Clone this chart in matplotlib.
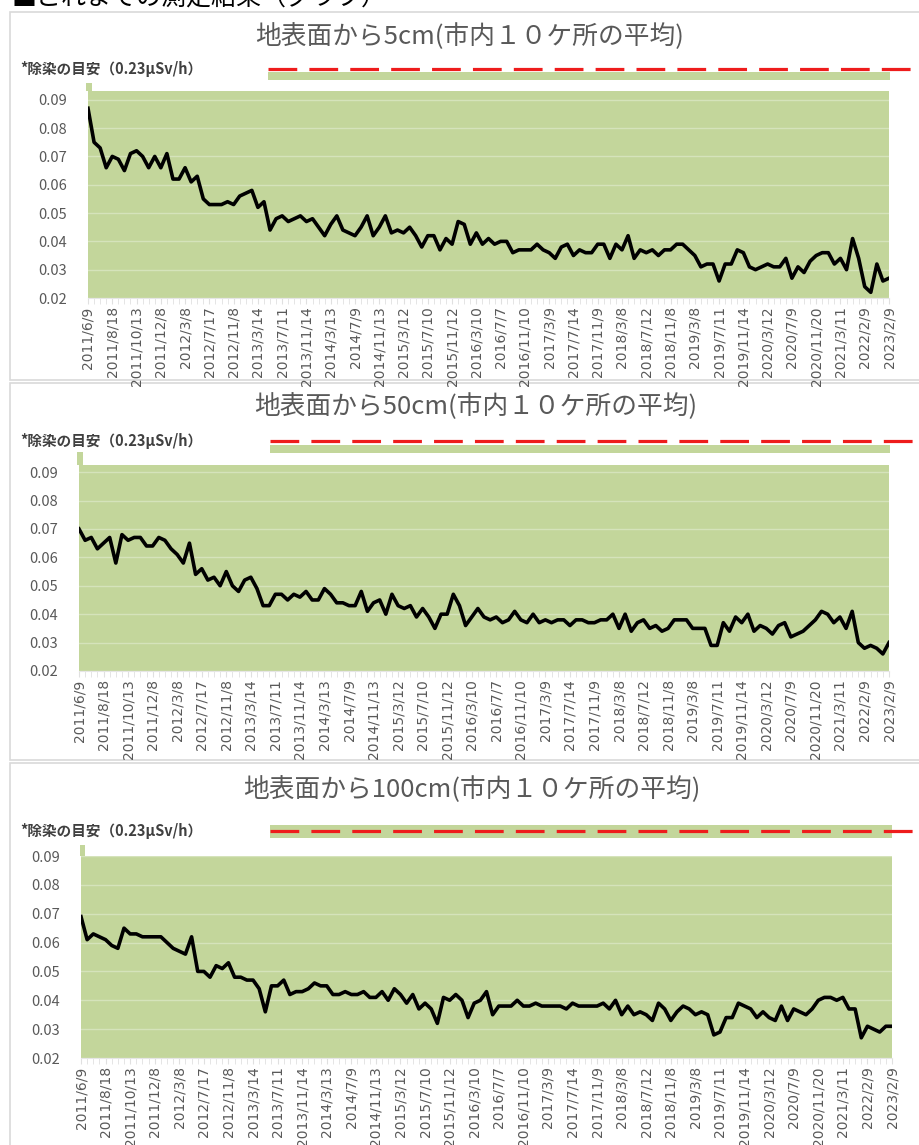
import matplotlib
matplotlib.use("Agg")
import matplotlib.pyplot as plt
from matplotlib.lines import Line2D
from matplotlib.patches import Rectangle

plt.rcParams['font.family'] = ['Noto Sans CJK JP', 'DejaVu Sans']

# tick labels shown on the category axis (every 4th measurement)
DATE_LABELS = ["2011/6/9", "2011/8/18", "2011/10/13", "2011/12/8", "2012/3/8", "2012/7/17",
               "2012/11/8", "2013/3/14", "2013/7/11", "2013/11/14", "2014/3/13", "2014/7/9",
               "2014/11/13", "2015/3/12", "2015/7/10", "2015/11/12", "2016/3/10", "2016/7/7",
               "2016/11/10", "2017/3/9", "2017/7/14", "2017/11/9", "2018/3/8", "2018/7/12",
               "2018/11/8", "2019/3/8", "2019/7/11", "2019/11/14", "2020/3/12", "2020/7/9",
               "2020/11/20", "2021/3/11", "2022/2/9", "2023/2/9"]
LABEL_STEP = 4

# air dose rate (uSv/h), average of 10 places
S_5CM = [0.087, 0.075, 0.073, 0.066, 0.070, 0.069, 0.065, 0.071, 0.072, 0.070,
         0.066, 0.070, 0.066, 0.071, 0.062, 0.062, 0.066, 0.061, 0.063, 0.055,
         0.053, 0.053, 0.053, 0.054, 0.053, 0.056, 0.057, 0.058, 0.052, 0.054,
         0.044, 0.048, 0.049, 0.047, 0.048, 0.049, 0.047, 0.048, 0.045, 0.042,
         0.046, 0.049, 0.044, 0.043, 0.042, 0.045, 0.049, 0.042, 0.045, 0.049,
         0.043, 0.044, 0.043, 0.045, 0.042, 0.038, 0.042, 0.042, 0.037, 0.041,
         0.039, 0.047, 0.046, 0.039, 0.043, 0.039, 0.041, 0.039, 0.040, 0.040,
         0.036, 0.037, 0.037, 0.037, 0.039, 0.037, 0.036, 0.034, 0.038, 0.039,
         0.035, 0.037, 0.036, 0.036, 0.039, 0.039, 0.034, 0.039, 0.037, 0.042,
         0.034, 0.037, 0.036, 0.037, 0.035, 0.037, 0.037, 0.039, 0.039, 0.037,
         0.035, 0.031, 0.032, 0.032, 0.026, 0.032, 0.032, 0.037, 0.036, 0.031,
         0.030, 0.031, 0.032, 0.031, 0.031, 0.034, 0.027, 0.031, 0.029, 0.033,
         0.035, 0.036, 0.036, 0.032, 0.034, 0.030, 0.041, 0.034, 0.024, 0.022,
         0.032, 0.026, 0.027]

S_50CM = [0.070, 0.066, 0.067, 0.063, 0.065, 0.067, 0.058, 0.068, 0.066, 0.067,
          0.067, 0.064, 0.064, 0.067, 0.066, 0.063, 0.061, 0.058, 0.065, 0.054,
          0.056, 0.052, 0.053, 0.050, 0.055, 0.050, 0.048, 0.052, 0.053, 0.049,
          0.043, 0.043, 0.047, 0.047, 0.045, 0.047, 0.046, 0.048, 0.045, 0.045,
          0.049, 0.047, 0.044, 0.044, 0.043, 0.043, 0.048, 0.041, 0.044, 0.045,
          0.040, 0.047, 0.043, 0.042, 0.043, 0.039, 0.042, 0.039, 0.035, 0.040,
          0.040, 0.047, 0.043, 0.036, 0.039, 0.042, 0.039, 0.038, 0.039, 0.037,
          0.038, 0.041, 0.038, 0.037, 0.040, 0.037, 0.038, 0.037, 0.038, 0.038,
          0.036, 0.038, 0.038, 0.037, 0.037, 0.038, 0.038, 0.040, 0.035, 0.040,
          0.034, 0.037, 0.038, 0.035, 0.036, 0.034, 0.035, 0.038, 0.038, 0.038,
          0.035, 0.035, 0.035, 0.029, 0.029, 0.037, 0.034, 0.039, 0.037, 0.040,
          0.034, 0.036, 0.035, 0.033, 0.036, 0.037, 0.032, 0.033, 0.034, 0.036,
          0.038, 0.041, 0.040, 0.037, 0.039, 0.035, 0.041, 0.030, 0.028, 0.029,
          0.028, 0.026, 0.030]

S_100CM = [0.069, 0.061, 0.063, 0.062, 0.061, 0.059, 0.058, 0.065, 0.063, 0.063,
           0.062, 0.062, 0.062, 0.062, 0.060, 0.058, 0.057, 0.056, 0.062, 0.050,
           0.050, 0.048, 0.052, 0.051, 0.053, 0.048, 0.048, 0.047, 0.047, 0.044,
           0.036, 0.045, 0.045, 0.047, 0.042, 0.043, 0.043, 0.044, 0.046, 0.045,
           0.045, 0.042, 0.042, 0.043, 0.042, 0.042, 0.043, 0.041, 0.041, 0.043,
           0.040, 0.044, 0.042, 0.039, 0.042, 0.037, 0.039, 0.037, 0.032, 0.041,
           0.040, 0.042, 0.040, 0.034, 0.039, 0.040, 0.043, 0.035, 0.038, 0.038,
           0.038, 0.040, 0.038, 0.038, 0.039, 0.038, 0.038, 0.038, 0.038, 0.037,
           0.039, 0.038, 0.038, 0.038, 0.038, 0.039, 0.037, 0.040, 0.035, 0.038,
           0.035, 0.036, 0.035, 0.033, 0.039, 0.037, 0.033, 0.036, 0.038, 0.037,
           0.035, 0.036, 0.035, 0.028, 0.029, 0.034, 0.034, 0.039, 0.038, 0.037,
           0.034, 0.036, 0.034, 0.033, 0.038, 0.033, 0.037, 0.036, 0.035, 0.037,
           0.040, 0.041, 0.041, 0.040, 0.041, 0.037, 0.037, 0.027, 0.031, 0.030,
           0.029, 0.031, 0.031]

GUIDE = 0.23  # decontamination guideline (uSv/h), far above the axis range
Y_TICKS = [0.02, 0.03, 0.04, 0.05, 0.06, 0.07, 0.08, 0.09]

HEADER = "■これまでの測定結果（グラフ）"
LEGEND_TEXT = "*除染の目安（0.23μSv/h）"
TITLES = ["地表面から5cm(市内１０ケ所の平均)",
          "地表面から50cm(市内１０ケ所の平均)",
          "地表面から100cm(市内１０ケ所の平均)"]

W, H = 919, 1145
GREEN = "#c3d69b"
GRID = "#d5e3bb"
TXT = "#595959"

# pixel layout of each panel
layouts = [
    dict(box=(10, 12, 930, 380), title=(470, 37), leg_y=69, band=(268, 72, 890, 80),
         plot=(88, 91, 889, 298), ytop=0.0931, spike=(86, 83, 92)),
    dict(box=(10, 383, 930, 760), title=(476, 407), leg_y=441, band=(270, 445, 890, 453),
         plot=(79, 465, 889, 671), ytop=0.0925, spike=(77, 452, 83)),
    dict(box=(10, 763, 930, 1160), title=(472, 790), leg_y=831, band=(270, 825, 892, 838),
         plot=(81, 856, 892, 1058), ytop=0.0897, spike=(80, 845, 85)),
]


def px_axes(fig, x0, y0, x1, y1):
    return fig.add_axes([x0 / W, 1 - y1 / H, (x1 - x0) / W, (y1 - y0) / H])


fig = plt.figure(figsize=(W / 100, H / 100), dpi=100)

fig.text(12 / W, 1 - (-2) / H, HEADER, fontsize=18, color="black", ha="left", va="center")

for title, values, lay in zip(TITLES, [S_5CM, S_50CM, S_100CM], layouts):
    bx0, by0, bx1, by1 = lay["box"]
    fig.add_artist(Rectangle((bx0 / W, 1 - by1 / H), (bx1 - bx0) / W, (by1 - by0) / H,
                             transform=fig.transFigure, facecolor="white",
                             edgecolor="#d9d9d9", lw=1.2, zorder=0))

    tx, ty = lay["title"]
    fig.text(tx / W, 1 - ty / H, title, fontsize=18.5, color=TXT, ha="center", va="center")
    fig.text(20 / W, 1 - lay["leg_y"] / H, LEGEND_TEXT, fontsize=10.5, color="#404040",
             fontweight="bold", ha="left", va="center")

    # legend-like strip: green area swatch and red dashed guide line
    gx0, gy0, gx1, gy1 = lay["band"]
    fig.add_artist(Rectangle((gx0 / W, 1 - gy1 / H), (gx1 - gx0) / W, (gy1 - gy0) / H,
                             transform=fig.transFigure, facecolor=GREEN, edgecolor="none",
                             zorder=1))
    fig.add_artist(Line2D([gx0 / W, 1.0], [1 - lay["leg_y"] / H] * 2,
                          transform=fig.transFigure, color="#ee1c1c", lw=2.3,
                          linestyle=(0, (9, 3.8)), zorder=2))

    px0, py0, px1, py1 = lay["plot"]
    sx0, sy0, sx1 = lay["spike"]
    fig.add_artist(Rectangle((sx0 / W, 1 - py0 / H), (sx1 - sx0) / W, (py0 - sy0) / H,
                             transform=fig.transFigure, facecolor=GREEN, edgecolor="none",
                             zorder=1))

    ax = px_axes(fig, px0, py0, px1, py1)
    n = len(values)
    x = list(range(n))
    ax.fill_between(x, 0, [GUIDE] * n, color=GREEN, lw=0, zorder=0.2)
    ax.plot(x, values, color="black", lw=2.6, solid_joinstyle="round", zorder=3)

    ax.set_xlim(0, n - 1)
    ax.set_ylim(0.02, lay["ytop"])
    ax.set_facecolor("none")
    for sp in ["top", "right", "left"]:
        ax.spines[sp].set_visible(False)
    ax.spines["bottom"].set_color("#e6e6e6")

    ax.set_axisbelow(True)
    ax.set_yticks(Y_TICKS)
    ax.set_yticklabels([f"{v:.2f}" for v in Y_TICKS])
    ax.yaxis.grid(True, color=GRID, lw=1.0)
    ax.tick_params(axis="y", length=0, pad=15, labelsize=10.5, labelcolor=TXT)

    ax.set_xticks(range(0, n, LABEL_STEP))
    ax.set_xticklabels(DATE_LABELS, rotation=90, family=["Liberation Sans Narrow", "DejaVu Sans"])
    ax.set_xticks(x, minor=True)
    ax.tick_params(axis="x", which="both", length=4, color="#e0e0e0", direction="out")
    ax.tick_params(axis="x", which="major", pad=2, labelsize=10, labelcolor=TXT)

fig.savefig("out.png", dpi=100)
